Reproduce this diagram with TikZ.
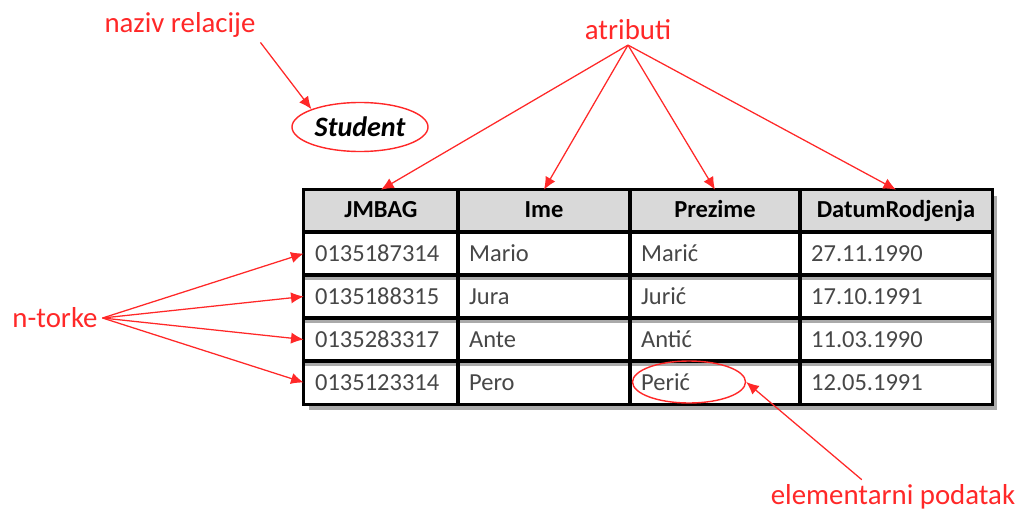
\documentclass[tikz,border=0pt]{standalone}
\usepackage{fontspec}
\setmainfont{Carlito}
\usetikzlibrary{arrows.meta,shapes.geometric,backgrounds}
\definecolor{lblred}{RGB}{255,40,40}
\definecolor{hdrgray}{RGB}{217,217,217}
\definecolor{shdgray}{RGB}{170,170,170}

\begin{document}
\begin{tikzpicture}[x=0.025cm,y=-0.025cm,
    lbl/.style={text=lblred,font=\fontsize{20.5}{24}\selectfont},
    ptr/.style={draw=lblred,line width=0.9pt,-{Latex[length=9pt,width=8pt]}},
    oval/.style={ellipse,draw=lblred,line width=1pt,inner sep=0pt},
    cell/.style={rectangle,fill=white,inner xsep=0.28cm,inner ysep=0pt,
      minimum height=1.075cm,text=black!72,align=left,
      font=\fontsize{17.4}{20}\selectfont},
    hcell/.style={cell,fill=hdrgray,minimum height=1.05cm,text=black,
      align=center,font=\fontsize{17.4}{20}\selectfont\bfseries},
    c1/.style={text width=3.29cm},
    c2/.style={text width=3.74cm},
    c3/.style={text width=3.69cm},
    c4/.style={text width=4.24cm},
    grid/.style={draw=black,line width=2.2pt},
    shadeline/.style={draw=shdgray,line width=1.8pt}]

  \useasboundingbox (0,0) rectangle (1025,512);

  % table cells
  \begin{scope}[every node/.style={hcell}]
    \node[c1] (h1) at (381,211) {JMBAG\vphantom{j}};
    \node[c2] (h2) at (544,211) {Ime\vphantom{j}};
    \node[c3] (h3) at (715,211) {Prezime\vphantom{j}};
    \node[c4] (h4) at (896,211) {DatumRodjenja};
  \end{scope}

  \begin{scope}[every node/.style={cell}]
    \node[c1] (r1c1) at (381,253.5) {0135187314};
    \node[c2] (r1c2) at (544,253.5) {Mario};
    \node[c3] (r1c3) at (715,253.5) {Marić};
    \node[c4] (r1c4) at (896,253.5) {27.11.1990};
    \node[c1] (r2c1) at (381,296.5) {0135188315};
    \node[c2] (r2c2) at (544,296.5) {Jura};
    \node[c3] (r2c3) at (715,296.5) {Jurić};
    \node[c4] (r2c4) at (896,296.5) {17.10.1991};
    \node[c1] (r3c1) at (381,339.5) {0135283317};
    \node[c2] (r3c2) at (544,339.5) {Ante};
    \node[c3] (r3c3) at (715,339.5) {Antić};
    \node[c4] (r3c4) at (896,339.5) {11.03.1990};
    \node[c1] (r4c1) at (381,382.5) {0135123314};
    \node[c2] (r4c2) at (544,382.5) {Pero};
    \node[c3] (r4c3) at (715,382.5) {Perić};
    \node[c4] (r4c4) at (896,382.5) {12.05.1991};
  \end{scope}

  % shadow
  \begin{pgfonlayer}{background}
    \fill[shdgray] ([xshift=0.12cm,yshift=-0.15cm]h1.north west)
      rectangle ([xshift=0.12cm,yshift=-0.15cm]r4c4.south east);
  \end{pgfonlayer}
  \foreach \r in {r1,r2,r3}
    \draw[shadeline] ([yshift=-0.075cm]\r c1.south west) -- ([yshift=-0.075cm]\r c4.south east);

  \foreach \n in {h1,h2,h3,h4,r1c1,r1c2,r1c3,r1c4,r2c1,r2c2,r2c3,r2c4,
                  r3c1,r3c2,r3c3,r3c4,r4c1,r4c2,r4c3,r4c4}
    \draw[grid] (\n.south west) rectangle (\n.north east);

  % ovals
  \node[oval,minimum width=3.4cm,minimum height=1.225cm,
    font=\fontsize{20}{24}\selectfont\bfseries\itshape] (rel) at (360,127) {Student};
  \node[oval,minimum width=2.825cm,minimum height=1.05cm] (pelip) at (689,382) {};

  % labels
  \begin{scope}[every node/.style={lbl}]
    \node (naz)  at (180,25)  {naziv relacije};
    \node (atr)  at (628,30)  {atributi};
    \node (ntk)  at (55,318)  {n-torke};
    \node (elem) at (893,497) {elementarni podatak};
  \end{scope}

  % pointers
  \begin{scope}[every edge/.style={ptr}]
    \path (naz.south east) edge (rel.north west);
    \path (atr.south) edge (h1.north);
    \path (atr.south) edge (h2.north);
    \path (atr.south) edge (h3.north);
    \path (atr.south) edge (h4.north);
    \path (ntk.east) edge (r1c1.west);
    \path (ntk.east) edge (r2c1.west);
    \path (ntk.east) edge (r3c1.west);
    \path (ntk.east) edge (r4c1.west);
    \path ([xshift=-0.78cm]elem.north) edge (pelip.east);
  \end{scope}

\end{tikzpicture}
\end{document}
